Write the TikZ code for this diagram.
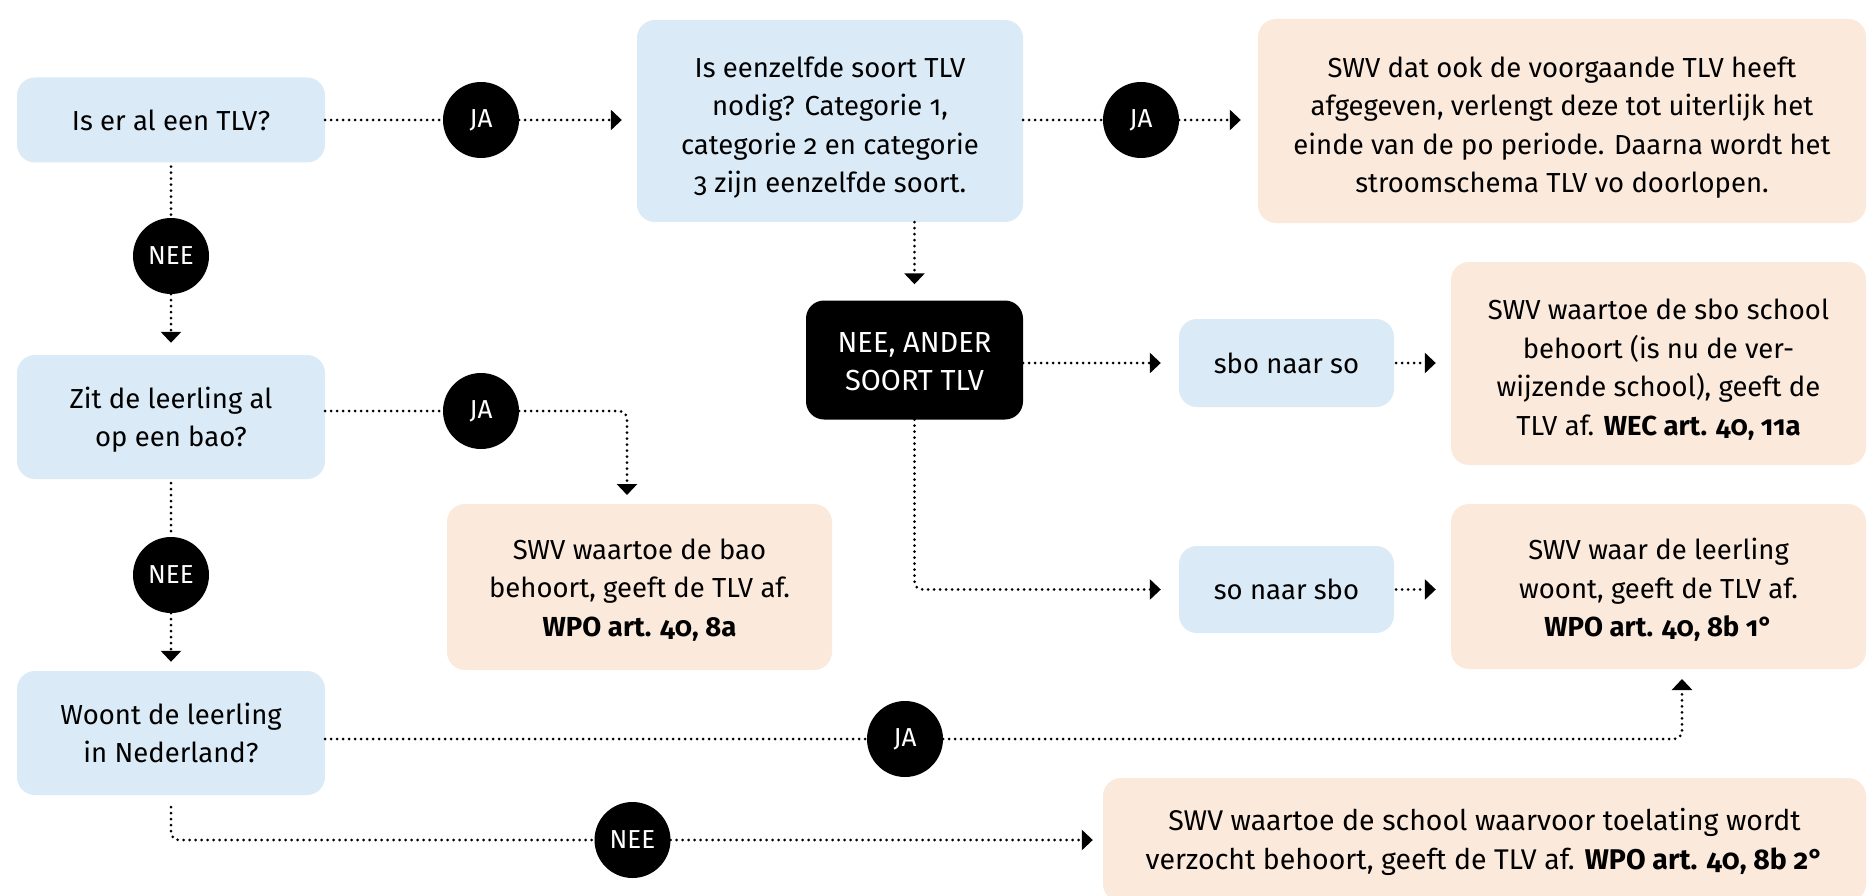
\documentclass[tikz,border=0pt]{standalone}
\usepackage{fontspec}
\setmainfont{Fira Sans}[Numbers=OldStyle]
\usetikzlibrary{arrows.meta}
\definecolor{lblue}{RGB}{218,234,246}
\definecolor{lpeach}{RGB}{251,233,219}
\newcommand\topstrut[1]{\rule{0pt}{#1}}
\tikzset{
  boxbase/.style={rounded corners=18pt, align=center, inner sep=0pt,
    font=\fontsize{27.5}{38.5}\selectfont},
  blu/.style={boxbase, fill=lblue},
  pch/.style={boxbase, fill=lpeach},
  blk/.style={boxbase, fill=black, text=white, font=\fontsize{29}{38.5}\selectfont},
  lab/.style={circle, fill=black, text=white, minimum size=76pt, inner sep=0pt,
    font=\fontsize{26}{30}\selectfont},
  con/.style={line width=3pt, dash pattern=on 0pt off 6pt, line cap=round},
  arr/.style={con, -{Triangle[width=20pt,length=11pt]}},
}
\begin{document}
\begin{tikzpicture}[x=1pt,y=-1pt]
\useasboundingbox (0,0) rectangle (1868,896);
% boxes
\node[blu, minimum width=308pt, minimum height=85pt] (A) at (171,120) {Is er al een TLV?};
\node[blu, minimum width=386pt, minimum height=202pt] (B) at (830,121) {\topstrut{34pt}Is eenzelfde soort TLV\\nodig? Categorie 1,\\categorie 2 en categorie\\3 zijn eenzelfde soort.};
\node[pch, minimum width=608pt, minimum height=204pt] (C) at (1562,121) {\topstrut{34pt}SWV dat ook de voorgaande TLV heeft\\afgegeven, verlengt deze tot uiterlijk het\\einde van de po periode. Daarna wordt het\\stroomschema TLV vo doorlopen.};
\node[blu, minimum width=308pt, minimum height=124pt] (D) at (171,417) {\topstrut{27pt}Zit de leerling al\\op een bao?};
\node[pch, minimum width=385pt, minimum height=166pt] (E) at (639.5,587) {\topstrut{26.5pt}SWV waartoe de bao\\behoort, geeft de TLV af.\\\textbf{WPO art. 40, 8a}};
\node[blu, minimum width=308pt, minimum height=124pt] (F) at (171,733) {Woont de leerling\\in Nederland?};
\node[blk, minimum width=217pt, minimum height=119pt] (K) at (914.5,360) {\topstrut{23pt}NEE, ANDER\\SOORT TLV};
\node[blu, minimum width=215pt, minimum height=88pt] (S1) at (1286.5,363) {sbo naar so};
\node[blu, minimum width=215pt, minimum height=87pt] (S2) at (1286.5,589.5) {so naar sbo};
\node[pch, minimum width=415pt, minimum height=203pt] (G) at (1658.5,363.5) {\topstrut{32.5pt}SWV waartoe de sbo school\\behoort (is nu de ver-\\wijzende school), geeft de\\TLV af. \textbf{WEC art. 40, 11a}};
\node[pch, minimum width=415pt, minimum height=165pt] (H) at (1658.5,586.5) {\topstrut{28.5pt}SWV waar de leerling\\woont, geeft de TLV af.\\\textbf{WPO art. 40, 8b 1°}};
\node[pch, minimum width=763pt, minimum height=124pt, font=\fontsize{28.5}{38.5}\selectfont] (I) at (1484.5,840) {\topstrut{26.5pt}SWV waartoe de school waarvoor toelating wordt\\verzocht behoort, geeft de TLV af. \textbf{WPO art. 40, 8b 2°}};
% labels
\node[lab] (JA1) at (481,120) {JA};
\node[lab] (JA2) at (1141,120) {JA};
\node[lab] (NEE1) at (171,256) {NEE};
\node[lab] (JA3) at (481,411) {JA};
\node[lab] (NEE2) at (171,575) {NEE};
\node[lab] (JA4) at (905,739) {JA};
\node[lab] (NEE5) at (632.5,840) {NEE};
\coordinate (eIn) at (627,504);
\coordinate (hIn) at (1682,669);
% connectors
\draw[con] (A) -- (JA1);
\draw[arr, shorten >=15pt] (JA1) -- (B.west |- JA1);
\draw[con] (B.east |- JA2) -- (JA2);
\draw[arr, shorten >=17pt] (JA2) -- (C.west |- JA2);
\draw[con, shorten <=4pt] (A) -- (NEE1);
\draw[arr, shorten >=12pt] (NEE1) -- (D);
\draw[con] (JA3 -| D.east) -- (JA3);
\draw[arr, rounded corners=8pt, shorten >=9pt] (JA3) -| (eIn);
\draw[con, shorten <=4pt] (D) -- (NEE2);
\draw[arr, shorten >=9pt] (NEE2) -- (F);
\draw[con] (JA4 -| F.east) -- (JA4);
\draw[arr, rounded corners=8pt, shorten >=10pt] (JA4) -| (hIn);
\draw[con, rounded corners=8pt] ([yshift=-12pt]F.south) -- (F.south |- NEE5) -- (NEE5);
\draw[arr, shorten >=10pt] (NEE5) -- (I.west |- NEE5);
\draw[arr, shorten >=16pt] (B.south -| K) -- (K);
\draw[arr, shorten >=18pt] (K.east |- S1) -- (S1);
\draw[arr, shorten <=2pt, shorten >=15pt] (S1) -- (G.west |- S1);
\draw[arr, rounded corners=8pt, shorten >=18pt] (K.south) -- (K.south |- S2) -- (S2);
\draw[arr, shorten <=2pt, shorten >=15pt] (S2) -- (H.west |- S2);
\end{tikzpicture}
\end{document}
